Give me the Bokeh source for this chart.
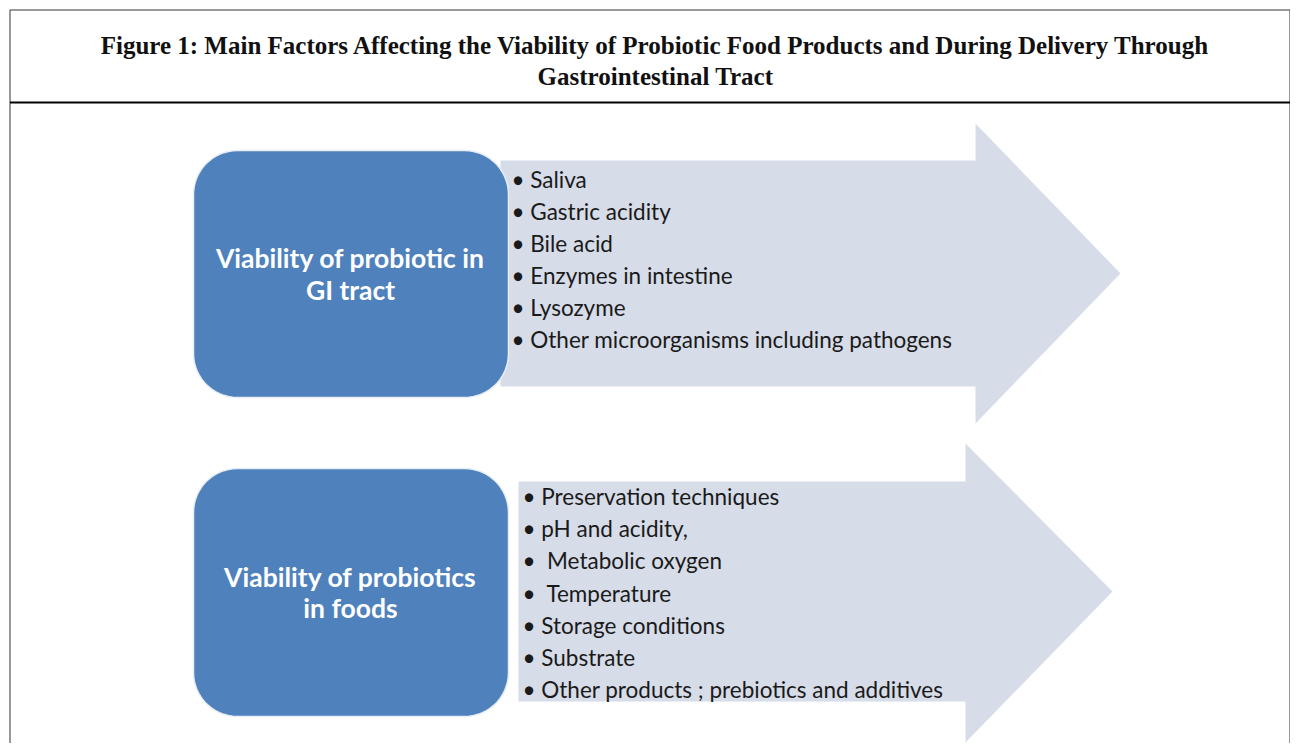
import numpy as np
from bokeh.plotting import figure
from bokeh.models import Range1d
from bokeh.core.properties import value
from bokeh.embed import file_html
from bokeh.resources import INLINE

# ---- content ----
title_lines = [
    "Figure 1: Main Factors Affecting the Viability of Probiotic Food Products and During Delivery Through",
    "Gastrointestinal Tract",
]
box_labels_top = ["Viability of probiotic in", "GI tract"]
box_labels_bottom = ["Viability of probiotics", "in foods"]
factors_gi = [
    "\u2022 Saliva",
    "\u2022 Gastric acidity",
    "\u2022 Bile acid",
    "\u2022 Enzymes in intestine",
    "\u2022 Lysozyme",
    "\u2022 Other microorganisms including pathogens",
]
factors_food = [
    "\u2022 Preservation techniques",
    "\u2022 pH and acidity,",
    "\u2022\u00a0 Metabolic oxygen",
    "\u2022\u00a0 Temperature",
    "\u2022 Storage conditions",
    "\u2022 Substrate",
    "\u2022 Other products ; prebiotics and additives",
]

W, H = 1290, 743
OFF = 0

def px(v):
    return np.asarray(v, dtype=float) - OFF

p = figure(width=W, height=H, output_backend="svg", toolbar_location=None,
           x_range=Range1d(0, W), y_range=Range1d(H, 0), min_border=0)
p.axis.visible = False
p.grid.visible = False
p.outline_line_color = None
p.background_fill_color = "white"
p.border_fill_color = "white"

# outer frame and title separator
p.line(px([9.5, 9.5]), px([9.5, 760]), line_color="#333333", line_width=1)
p.line(px([1289.5, 1289.5]), px([9.5, 760]), line_color="#333333", line_width=1)
p.line(px([9.5, 1289.5]), px([9.5, 9.5]), line_color="#333333", line_width=1)
p.line(px([9.5, 1289.5]), px([102, 102]), line_color="#000000", line_width=2)

# title
p.text(x=px([655, 655]), y=px([45, 76]), text=title_lines,
       text_font=value("Liberation Serif"), text_font_style="bold",
       text_font_size="25px", text_align="center", text_baseline="middle",
       text_color="#111111")

def arrow(body_left, body_top, body_bottom, head_x, head_top, head_bottom, tip_x):
    mid = (body_top + body_bottom) / 2
    xs = [body_left, head_x, head_x, tip_x, head_x, head_x, body_left]
    ys = [body_top, body_top, head_top, mid, head_bottom, body_bottom, body_bottom]
    return px(xs), px(ys)

def rounded(l, r, t, b, rad, n=16):
    xs, ys = [], []
    corners = [(r - rad, t + rad, -90, 0), (r - rad, b - rad, 0, 90),
               (l + rad, b - rad, 90, 180), (l + rad, t + rad, 180, 270)]
    for cx, cy, a0, a1 in corners:
        a = np.radians(np.linspace(a0, a1, n))
        xs.extend(cx + rad * np.cos(a))
        ys.extend(cy + rad * np.sin(a))
    return px(xs), px(ys)

ARROW = "#D6DCE8"
BLUE = "#4F81BD"

ax, ay = arrow(500, 160, 386, 975, 123, 423, 1120)
p.patch(ax, ay, fill_color=ARROW, line_color=None)
ax, ay = arrow(518, 481, 701, 965, 443, 742, 1112)
p.patch(ax, ay, fill_color=ARROW, line_color=None)

bx, by = rounded(193, 508, 150, 397, 44)
p.patch(bx, by, fill_color=BLUE, line_color="#E8EEF6", line_width=1.5)
bx, by = rounded(193, 508, 468, 716, 44)
p.patch(bx, by, fill_color=BLUE, line_color="#E8EEF6", line_width=1.5)

p.text(x=px([350, 350]), y=px([257, 289]), text=box_labels_top,
       text_font=value("Lato"), text_font_style="bold", text_font_size="26.5px",
       text_align="center", text_baseline="middle", text_color="white")
p.text(x=px([350, 350]), y=px([576, 607]), text=box_labels_bottom,
       text_font=value("Lato"), text_font_style="bold", text_font_size="26.5px",
       text_align="center", text_baseline="middle", text_color="white")

gy = 179 + 32 * np.arange(len(factors_gi))
p.text(x=px(np.full(len(factors_gi), 511)), y=px(gy), text=factors_gi,
       text_font=value("Lato"), text_font_size="22.5px", text_align="left",
       text_baseline="middle", text_color="#1a1a1a")
fy = 496 + 32.2 * np.arange(len(factors_food))
p.text(x=px(np.full(len(factors_food), 522)), y=px(fy), text=factors_food,
       text_font=value("Lato"), text_font_size="22.5px", text_align="left",
       text_baseline="middle", text_color="#1a1a1a")

open("out.html", "w").write(file_html(p, INLINE))
